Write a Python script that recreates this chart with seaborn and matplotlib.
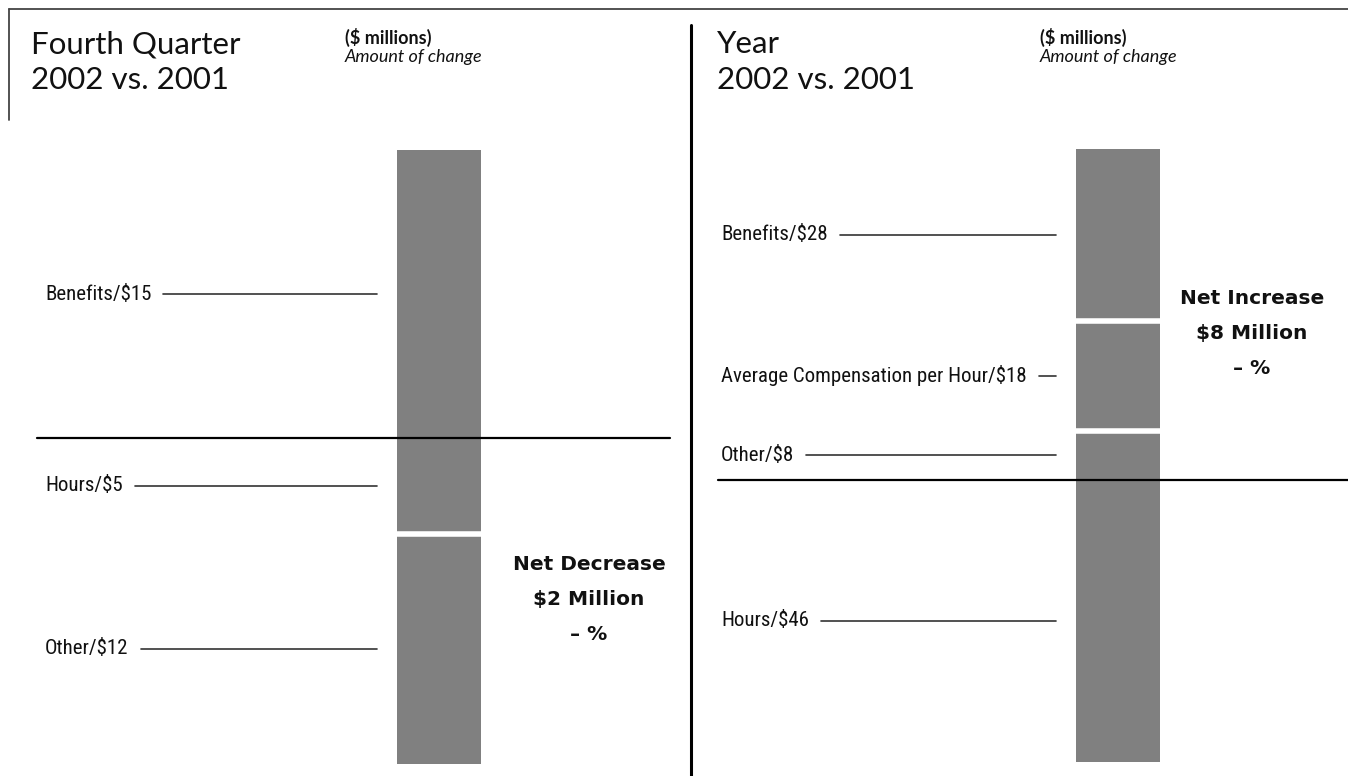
import matplotlib
matplotlib.use("Agg")
import matplotlib.pyplot as plt
import matplotlib.transforms as mtransforms
from matplotlib import font_manager as fm
from matplotlib.lines import Line2D
import seaborn as sns
import pandas as pd

# ---- data ($ millions, amount of change) ----
q4_items = ["Benefits", "Hours", "Other"]
q4_change = [15, -5, -12]

year_items = ["Benefits", "Average Compensation per Hour", "Other", "Hours"]
year_change = [28, 18, 8, -46]

panel_titles = ["Fourth Quarter\n2002 vs. 2001", "Year\n2002 vs. 2001"]
unit_note = "($ millions)"
unit_sub = "Amount of change"

W, H = 1348, 776

sns.set_theme(style="white")


def first_font(names):
    for n in names:
        try:
            fm.findfont(fm.FontProperties(family=n), fallback_to_default=False)
            return n
        except Exception:
            pass
    return "DejaVu Sans"


TITLE_FONT = first_font(["Lato", "Open Sans", "DejaVu Sans"])
LABEL_FONT = first_font(["Liberation Sans Narrow", "Roboto Condensed", "Open Sans Condensed", "Liberation Sans"])
NET_FONT = "DejaVu Sans"
plt.rcParams["font.family"] = [TITLE_FONT, "DejaVu Sans"]

BAR_COLOR = "#808080"
INK = "#111111"


def fx(x):
    return x / W


def fy(y):
    return 1 - y / H


def stack(changes):
    """Positive changes stack up from zero (last item nearest zero),
    negative changes stack down from zero in listed order."""
    bottoms = [0.0] * len(changes)
    top = 0.0
    for i in reversed(range(len(changes))):
        if changes[i] > 0:
            bottoms[i] = top
            top += changes[i]
    low = 0.0
    for i in range(len(changes)):
        if changes[i] < 0:
            bottoms[i] = low
            low += changes[i]
    return bottoms


# panel geometry in pixels
panels = [
    dict(items=q4_items, change=q4_change, title=panel_titles[0],
         x0=0, x1=690, zero=438, scale=19.18, bar_c=439, bar_w=84,
         label_x=45, zero_line=(37, 670), net_x=589, net_y=565,
         title_x=31, note_x=345),
    dict(items=year_items, change=year_change, title=panel_titles[1],
         x0=690, x1=1348, zero=480, scale=6.13, bar_c=1118, bar_w=84,
         label_x=721, zero_line=(718, 1348), net_x=1252, net_y=298,
         title_x=717, note_x=1040),
]

fig = plt.figure(figsize=(W / 100, H / 100), dpi=100)
fig.patch.set_facecolor("white")

pending = []
for p in panels:
    pw = p["x1"] - p["x0"]
    ax = fig.add_axes([fx(p["x0"]), 0, pw / W, 1])
    bottoms = stack(p["change"])
    df = pd.DataFrame({"item": p["items"], "change": p["change"], "bottom": bottoms})
    w = p["bar_w"] / pw
    for _, row in df.iterrows():
        sns.barplot(x=["total"], y=[row["change"]], bottom=row["bottom"], ax=ax,
                    width=w, color=BAR_COLOR, saturation=1, errorbar=None,
                    linewidth=0, zorder=1)
    c = (p["bar_c"] - p["x0"]) / pw
    ax.set_xlim(-c, 1 - c)
    ax.set_ylim(-(H - p["zero"]) / p["scale"], p["zero"] / p["scale"])
    ax.axis("off")

    # white separators between segments of the same sign
    seps = [b for b in df["bottom"] if b != 0]
    if seps:
        ax.hlines(seps, -w / 2 - 0.005, w / 2 + 0.005, colors="white", lw=4, zorder=2)

    # zero line
    zl0, zl1 = p["zero_line"]
    ax.axhline(0, xmin=(zl0 - p["x0"]) / pw, xmax=(zl1 - p["x0"]) / pw,
               color="black", lw=1.6, zorder=3)

    # segment labels
    blend = mtransforms.blended_transform_factory(fig.transFigure, ax.transData)
    for name, ch, b in zip(df["item"], df["change"], df["bottom"]):
        mid = b + ch / 2
        t = fig.text(fx(p["label_x"]), mid, f"{name}/${abs(ch)}", transform=blend,
                     ha="left", va="center", fontsize=15, family=LABEL_FONT,
                     parse_math=False, color=INK)
        pending.append((t, mid, blend, p["bar_c"] - p["bar_w"] / 2 - 20))

    # net change text
    net = sum(p["change"])
    kind = "Net Increase" if net > 0 else "Net Decrease"
    for k, line in enumerate([kind, f"${abs(net)} Million", "\u2013 %"]):
        fig.text(fx(p["net_x"]), fy(p["net_y"] + 35 * k), line, ha="center", va="center",
                 fontsize=14.5, fontweight="bold", family=NET_FONT,
                 parse_math=False, color=INK)

    # titles
    t1, t2 = p["title"].split("\n")
    fig.text(fx(p["title_x"]), fy(44), t1, ha="left", va="center", fontsize=22.5,
             parse_math=False, color=INK)
    fig.text(fx(p["title_x"]), fy(80), t2, ha="left", va="center", fontsize=22.5,
             parse_math=False, color=INK)
    fig.text(fx(p["note_x"]), fy(37), unit_note, ha="left", va="center", fontsize=13,
             fontweight="bold", parse_math=False, color=INK)
    fig.text(fx(p["note_x"]), fy(57), unit_sub, ha="left", va="center", fontsize=13,
             style="italic", parse_math=False, color=INK)

# frame and divider
fig.add_artist(Line2D([fx(9), 1], [fy(9), fy(9)], color="#444444", lw=1.3))
fig.add_artist(Line2D([fx(9), fx(9)], [fy(9), fy(120)], color="#444444", lw=1.3))
fig.add_artist(Line2D([fx(691), fx(691)], [fy(25), 0], color="black", lw=2.2))

# leader lines from each label to the bar
fig.canvas.draw()
renderer = fig.canvas.get_renderer()
for t, mid, blend, x_end in pending:
    bb = t.get_window_extent(renderer)
    x_start = bb.x1 + 12
    fig.add_artist(Line2D([fx(x_start), fx(x_end)], [mid, mid], transform=blend,
                          color="#333333", lw=1.2))

fig.savefig("out.png", dpi=100, facecolor="white")
